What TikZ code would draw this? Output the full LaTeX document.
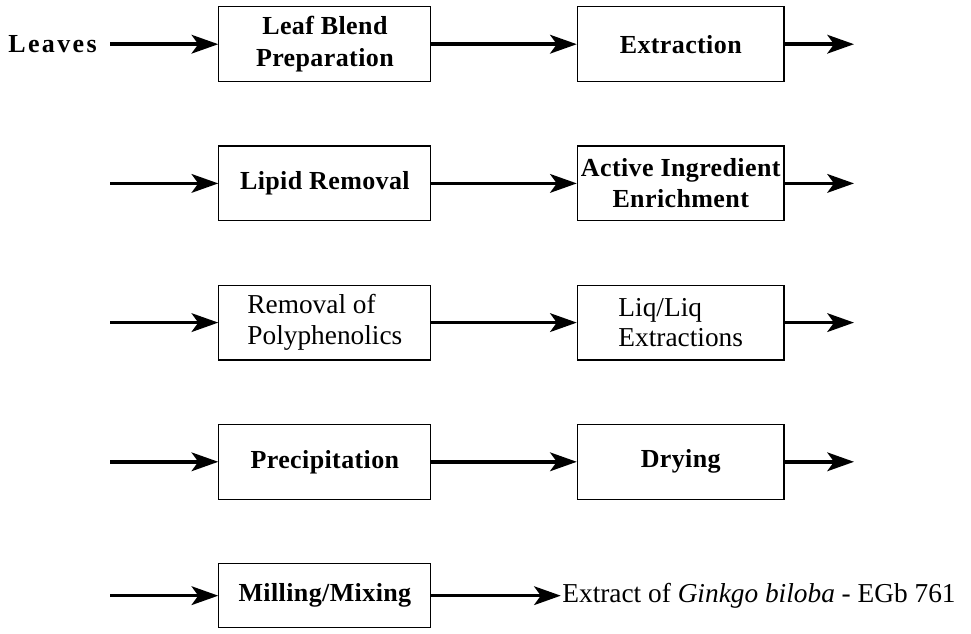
\documentclass[tikz,border=0pt]{standalone}
\usepackage{fontspec}
\setmainfont{Liberation Serif}
\usetikzlibrary{matrix,arrows.meta,positioning}
\tikzset{
  centered/.style = { align=center, anchor=center },
       box/.style = { draw, line width=0.9pt, inner xsep=2pt, minimum height=56pt,
                      font=\fontsize{19.5}{23.5}\selectfont\bfseries\addfontfeature{LetterSpace=1.5}, centered },
  plainbox/.style = { draw, line width=0.9pt, inner xsep=2pt, minimum height=56pt,
                      font=\fontsize{20.5}{23}\selectfont, align=left, anchor=center },
    source/.style = { font=\fontsize{19.5}{23}\selectfont\bfseries\addfontfeature{LetterSpace=9}, inner sep=0pt },
   product/.style = { font=\fontsize{20.5}{24}\selectfont, inner sep=1pt },
     arrow/.style = { line width=2.6pt, -{Stealth[length=20pt, width=14pt, inset=5pt]} },
}

\begin{document}
\begin{tikzpicture}[x=0.75pt, y=-0.75pt]
  \useasboundingbox (0,0) rectangle (971,633);
  \matrix (m)
    [
      anchor      = north west,
      inner sep   = 0pt,
      column sep  = 109pt,
      row sep     = 47.5pt,
      column 1/.style = { nodes = { minimum width=159pt } },
      column 2/.style = { nodes = { minimum width=155pt } },
    ] at (218,6)
    {
      \node (blend)  [box]      {Leaf Blend\\Preparation};   & \node (extr)   [box]      {Extraction};                \\
      \node (lipid)  [box]      {Lipid Removal};             & \node (enrich) [box]      {Active Ingredient\\Enrichment}; \\
      \node (polyph) [plainbox] {Removal of\\Polyphenolics}; & \node (liqliq) [plainbox] {Liq/Liq\\Extractions};      \\
      \node (precip) [box]      {Precipitation};             & \node (dry)    [box]      {Drying};                    \\
      \node (mill)   [box, minimum height=48pt] {Milling/Mixing}; &                                                 \\
    };

  \node (lv)  [source, left=91pt of blend] {Leaves};
  \node (egb) [product, right=97pt of mill] {Extract of \textit{Ginkgo biloba} - EGb 761};

  \draw [arrow, shorten <=10pt] (lv) -- (blend);
  \foreach \b [count=\i from 2] in {lipid, polyph, precip, mill} {
    \coordinate (in\i) at (lv.east |- \b.west);
    \draw [arrow, shorten <=10pt] (in\i) -- (\b);
  }
  \foreach \a/\b in {blend/extr, lipid/enrich, polyph/liqliq, precip/dry, mill/egb} {
    \draw [arrow] (\a) -- (\b);
  }
  \foreach \b [count=\i] in {extr, enrich, liqliq, dry} {
    \coordinate (out\i) at ([xshift=52pt]\b.east);
    \draw [arrow] (\b) -- (out\i);
  }
\end{tikzpicture}
\end{document}
